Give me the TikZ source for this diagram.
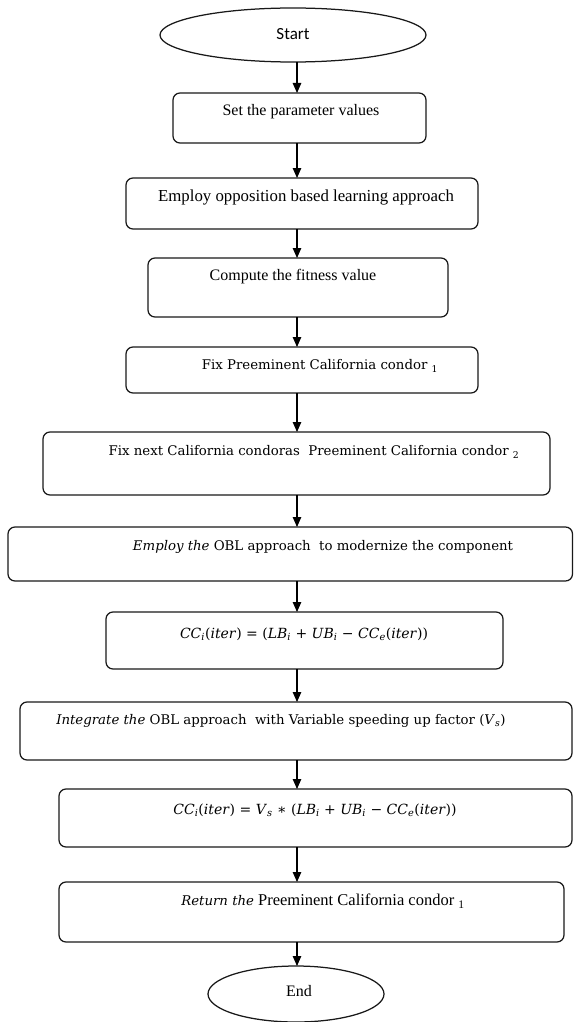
\documentclass[tikz,border=0pt]{standalone}
\usepackage{fontspec}
\setmainfont{Liberation Serif}
\newfontfamily\calib{Carlito}
\newfontfamily\camb{DejaVu Serif}
\usetikzlibrary{shapes.geometric,arrows.meta}
\begin{document}
\begin{tikzpicture}[x=1pt,y=-1pt,
  box/.style={draw=black!90, line width=1.25pt, rounded corners=7pt, inner sep=0pt, outer sep=0pt},
  oval/.style={draw=black!90, line width=1.25pt, ellipse, inner sep=0pt, outer sep=0pt},
  arr/.style={draw=black, line width=1.1pt, -{Triangle[length=10pt,width=8.5pt]}},
  tms/.style={inner sep=0pt, font=\fontsize{16}{18}\selectfont},
  cmb/.style={inner sep=0pt, font=\camb\fontsize{13.3}{15}\selectfont},
  frm/.style={inner sep=0pt, font=\camb\fontsize{14}{16}\selectfont},
]
\useasboundingbox (0,0) rectangle (574,1022);
\coordinate (ax) at (297,0);

\node[oval, minimum width=266pt, minimum height=54pt] (st) at (293,35) {};
\node[inner sep=0pt, font=\calib\fontsize{17}{20}\selectfont] (tst) at (293,34) {Start};

\node[box, minimum width=253pt, minimum height=50pt] (b1) at (299.5,118) {};
\node[tms] (t1) at (301,112) {Set the parameter values};

\node[box, minimum width=352pt, minimum height=51pt] (b2) at (302,203.5) {};
\node[tms, font=\fontsize{16.8}{18}\selectfont] (t2) at (306,197) {Employ opposition based learning approach};

\node[box, minimum width=300pt, minimum height=59pt] (b3) at (298,287.5) {};
\node[tms] (t3) at (293,277) {Compute the fitness value};

\node[box, minimum width=352pt, minimum height=46pt] (b4) at (302,370) {};
\node[cmb] (t4) at (320,366) {Fix Preeminent California condor \textsubscript{1}};

\node[box, minimum width=507pt, minimum height=63pt] (b5) at (296.5,463.5) {};
\node[cmb] (t5) at (314,452) {Fix next California condoras\ \ Preeminent California condor \textsubscript{2}};

\node[box, minimum width=564.5pt, minimum height=54pt] (b6) at (290.25,554) {};
\node[cmb] (t6) at (323,547) {\textit{Employ the} OBL approach\ \ to modernize the component};

\node[box, minimum width=397pt, minimum height=57pt] (b7) at (304.5,640.5) {};
\node[frm] (t7) at (304,634) {\textit{CC}\textsubscript{\textit{i}}(\textit{iter}) = (\textit{LB}\textsubscript{\textit{i}} + \textit{UB}\textsubscript{\textit{i}} − \textit{CC}\textsubscript{\textit{e}}(\textit{iter}))};

\node[box, minimum width=552pt, minimum height=58pt] (b8) at (296,731) {};
\node[cmb] (t8) at (281,721) {\textit{Integrate the} OBL approach\ \ with Variable speeding up factor (\textit{V}\textsubscript{\textit{s}})};

\node[box, minimum width=513pt, minimum height=58pt] (b9) at (315.5,818) {};
\node[frm] (t9) at (315,810) {\textit{CC}\textsubscript{\textit{i}}(\textit{iter}) = \textit{V}\textsubscript{\textit{s}} ∗ (\textit{LB}\textsubscript{\textit{i}} + \textit{UB}\textsubscript{\textit{i}} − \textit{CC}\textsubscript{\textit{e}}(\textit{iter}))};

\node[box, minimum width=505pt, minimum height=60pt] (b10) at (311.5,912) {};
\node[tms, font=\fontsize{16.5}{18}\selectfont] (t10) at (323,901) {{\camb\fontsize{13.3}{15}\selectfont\textit{Return the}} Preeminent California condor \textsubscript{1}};

\node[oval, minimum width=176pt, minimum height=56pt] (en) at (296,994) {};
\node[tms] (ten) at (299,991) {End};

\draw[arr] (st.south -| ax) -- (b1.north -| ax);
\draw[arr] (b1.south -| ax) -- (b2.north -| ax);
\draw[arr] (b2.south -| ax) -- (b3.north -| ax);
\draw[arr] (b3.south -| ax) -- (b4.north -| ax);
\draw[arr] (b4.south -| ax) -- (b5.north -| ax);
\draw[arr] (b5.south -| ax) -- (b6.north -| ax);
\draw[arr] (b6.south -| ax) -- (b7.north -| ax);
\draw[arr] (b7.south -| ax) -- (b8.north -| ax);
\draw[arr] (b8.south -| ax) -- (b9.north -| ax);
\draw[arr] (b9.south -| ax) -- (b10.north -| ax);
\draw[arr] (b10.south -| ax) -- (en.north -| ax);
\end{tikzpicture}
\end{document}
